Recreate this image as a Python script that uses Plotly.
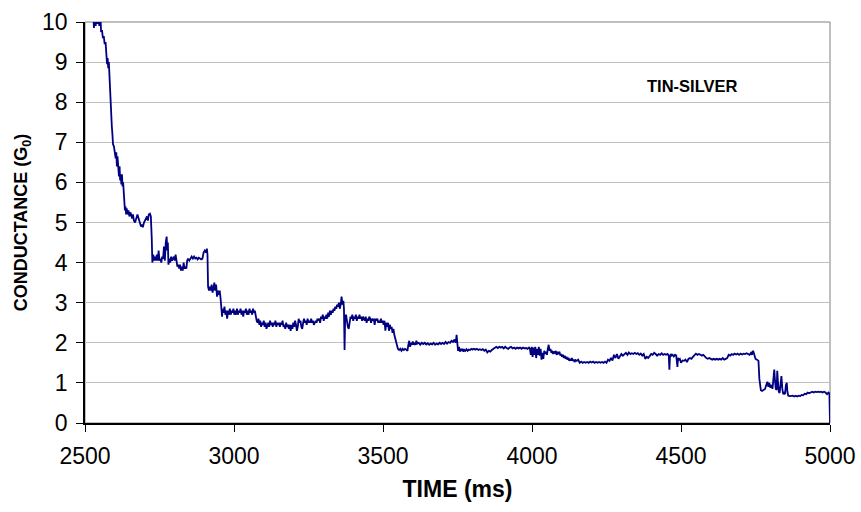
import plotly.graph_objects as go

# Conductance trace of a tin-silver contact while it is pulled apart.
# Each segment is a list of (time in ms, conductance in G0) readings.
seg_decay = [
    (2527, 10.4), (2530, 9.85), (2533, 10.3), (2536, 9.9), (2539, 10.4), (2542, 9.95),
    (2545, 10.2), (2548, 9.9), (2551, 10.3), (2554, 9.75), (2557, 9.8), (2560, 9.6),
    (2563, 9.65), (2566, 9.45), (2569, 9.5), (2572, 9.2), (2574, 8.95), (2576, 9.1),
    (2578, 8.85), (2580, 9.0), (2582, 8.6), (2584, 8.2), (2586, 8.1), (2588, 7.6),
    (2590, 7.4), (2592, 7.2), (2594, 6.95), (2597, 6.9), (2600, 6.7), (2603, 6.6),
    (2605, 6.75), (2607, 6.4), (2609, 6.65), (2611, 6.3), (2614, 6.15), (2616, 6.4),
    (2618, 6.05), (2620, 6.2), (2622, 5.95), (2624, 6.2), (2626, 5.9), (2628, 6.0),
    (2630, 5.6), (2632, 5.45), (2634, 5.3), (2636, 5.4), (2638, 5.2), (2640, 5.35),
    (2643, 5.2), (2646, 5.3), (2649, 5.15), (2652, 5.25), (2655, 5.2), (2658, 5.1),
    (2661, 5.2), (2664, 5.05), (2668, 5.0), (2672, 5.1), (2676, 5.2), (2680, 5.1),
    (2684, 5.0), (2688, 4.9), (2691, 4.95), (2694, 4.88), (2698, 5.0), (2702, 5.05),
    (2705, 5.1), (2708, 5.15), (2711, 5.05), (2714, 5.2), (2718, 5.22), (2721, 5.15),
]

seg_four = [
    (2724, 4.6), (2726, 4.0), (2729, 4.2), (2732, 4.05), (2735, 4.15), (2738, 4.05),
    (2741, 4.2), (2744, 4.05), (2747, 4.3), (2750, 4.05), (2753, 4.1), (2756, 4.0),
    (2759, 4.15), (2762, 4.1), (2765, 4.4), (2768, 4.05), (2771, 4.5), (2774, 4.65),
    (2776, 4.3), (2778, 4.5), (2780, 3.95), (2783, 4.1), (2786, 4.0), (2789, 4.15),
    (2792, 4.05), (2795, 4.1), (2798, 4.15), (2801, 4.05), (2804, 4.2), (2807, 4.05),
    (2810, 3.9), (2813, 3.95), (2816, 3.85), (2819, 3.95), (2822, 3.8), (2825, 3.9),
    (2828, 3.8), (2831, 4.0), (2834, 3.85), (2837, 3.9), (2840, 3.85), (2843, 4.05),
    (2846, 4.1), (2850, 4.05), (2854, 4.1), (2858, 4.15), (2862, 4.1), (2866, 4.15),
    (2870, 4.1), (2874, 4.12), (2878, 4.08), (2882, 4.12), (2886, 4.1), (2890, 4.08),
    (2894, 4.1), (2898, 4.25), (2902, 4.3), (2906, 4.25), (2909, 4.35), (2911, 4.2),
]

seg_three = [
    (2913, 3.4), (2916, 3.3), (2919, 3.4), (2922, 3.3), (2925, 3.45), (2928, 3.25),
    (2931, 3.35), (2934, 3.5), (2937, 3.3), (2940, 3.45), (2943, 3.15), (2946, 3.3),
    (2949, 3.2), (2952, 3.3), (2955, 3.1), (2958, 2.9), (2960, 2.65), (2962, 2.85),
    (2965, 2.75), (2968, 2.9), (2971, 2.7), (2974, 2.8), (2977, 2.6), (2980, 2.8),
    (2983, 2.7), (2986, 2.85), (2989, 2.7), (2992, 2.8), (2995, 2.75), (2998, 2.85),
    (3001, 2.7), (3004, 2.8), (3007, 2.7), (3010, 2.85), (3013, 2.7), (3016, 2.8),
    (3019, 2.75), (3022, 2.85), (3025, 2.7), (3028, 2.8), (3031, 2.65), (3034, 2.8),
    (3037, 2.75), (3040, 2.85), (3043, 2.7), (3046, 2.8), (3049, 2.7), (3052, 2.85),
    (3055, 2.75), (3058, 2.8), (3061, 2.7), (3064, 2.85), (3067, 2.75), (3070, 2.8),
]

seg_two_half = [
    (3073, 2.6), (3076, 2.55), (3079, 2.5), (3082, 2.6), (3085, 2.45), (3088, 2.55),
    (3091, 2.4), (3094, 2.5), (3097, 2.45), (3100, 2.55), (3103, 2.4), (3106, 2.5),
    (3109, 2.35), (3112, 2.45), (3115, 2.5), (3118, 2.4), (3121, 2.55), (3124, 2.45),
    (3127, 2.5), (3130, 2.4), (3133, 2.5), (3136, 2.45), (3139, 2.55), (3142, 2.4),
    (3145, 2.5), (3148, 2.45), (3151, 2.5), (3154, 2.4), (3157, 2.5), (3160, 2.45),
    (3163, 2.55), (3166, 2.4), (3169, 2.45), (3172, 2.35), (3175, 2.5), (3178, 2.4),
    (3181, 2.45), (3184, 2.35), (3187, 2.45), (3190, 2.3), (3193, 2.45), (3196, 2.35),
    (3199, 2.5), (3202, 2.4), (3205, 2.55), (3208, 2.45), (3211, 2.3), (3214, 2.4),
    (3217, 2.6), (3220, 2.5), (3223, 2.55), (3226, 2.4), (3229, 2.35), (3232, 2.5),
    (3235, 2.6), (3238, 2.5), (3241, 2.55), (3244, 2.45), (3247, 2.6), (3250, 2.5),
    (3253, 2.55), (3256, 2.5), (3259, 2.6), (3262, 2.5), (3265, 2.55), (3268, 2.45),
    (3271, 2.5), (3274, 2.55), (3277, 2.5), (3280, 2.6), (3283, 2.55), (3286, 2.6),
    (3289, 2.5), (3292, 2.65), (3295, 2.6), (3298, 2.7), (3301, 2.55), (3304, 2.65),
    (3307, 2.6), (3310, 2.7), (3313, 2.6), (3316, 2.75), (3319, 2.65), (3322, 2.8),
    (3325, 2.7), (3328, 2.8), (3331, 2.75), (3334, 2.85), (3337, 2.8), (3340, 2.9),
    (3343, 2.85), (3346, 2.95), (3349, 2.9), (3352, 3.0), (3355, 2.85), (3358, 2.95),
    (3361, 3.15), (3364, 2.95), (3367, 3.05), (3369, 2.85), (3371, 1.82), (3373, 2.6),
    (3376, 2.7), (3379, 2.45), (3382, 2.4), (3385, 2.35), (3388, 2.5), (3391, 2.65),
    (3394, 2.6), (3397, 2.7), (3400, 2.55), (3403, 2.65), (3406, 2.6), (3409, 2.7),
    (3412, 2.55), (3415, 2.65), (3418, 2.6), (3421, 2.7), (3424, 2.6), (3427, 2.65),
    (3430, 2.55), (3433, 2.65), (3436, 2.6), (3439, 2.55), (3442, 2.65), (3445, 2.5),
    (3448, 2.6), (3451, 2.55), (3454, 2.65), (3457, 2.6), (3460, 2.5), (3463, 2.6),
    (3466, 2.55), (3469, 2.6), (3472, 2.45), (3475, 2.6), (3478, 2.55), (3481, 2.6),
    (3484, 2.5), (3487, 2.55), (3490, 2.5), (3493, 2.6), (3496, 2.5), (3499, 2.55),
    (3502, 2.45), (3505, 2.55), (3508, 2.3), (3511, 2.5), (3514, 2.4), (3517, 2.5),
    (3520, 2.3), (3523, 2.45), (3526, 2.35), (3529, 2.4), (3532, 2.25), (3535, 2.35),
    (3538, 2.2), (3541, 2.1), (3544, 2.0), (3547, 1.95),
]

seg_two = [
    (3550, 1.85), (3554, 1.82), (3558, 1.85), (3562, 1.8), (3566, 1.85), (3570, 1.82),
    (3574, 1.85), (3578, 1.83), (3582, 1.8), (3585, 1.95), (3588, 2.05), (3591, 1.9),
    (3594, 2.0), (3597, 1.95), (3600, 2.03), (3603, 1.95), (3606, 2.0), (3609, 1.95),
    (3612, 2.05), (3615, 1.98), (3620, 2.0), (3625, 1.95), (3630, 2.0), (3635, 1.97),
    (3640, 2.0), (3645, 1.96), (3650, 1.99), (3655, 1.95), (3660, 1.98), (3665, 1.96),
    (3670, 2.0), (3675, 1.95), (3680, 1.98), (3685, 1.96), (3690, 2.0), (3695, 1.97),
    (3700, 2.0), (3705, 1.97), (3710, 2.02), (3715, 1.98), (3720, 2.02), (3725, 2.0),
    (3730, 2.05), (3735, 2.02), (3740, 2.08), (3744, 2.0), (3747, 2.2), (3750, 1.95),
    (3752, 1.8), (3755, 1.9), (3758, 1.78), (3761, 1.85), (3764, 1.8), (3767, 1.85),
    (3770, 1.78), (3773, 1.82), (3776, 1.8), (3780, 1.84), (3784, 1.8), (3788, 1.83),
    (3792, 1.82), (3796, 1.85), (3800, 1.83), (3805, 1.85), (3810, 1.83), (3815, 1.85),
    (3820, 1.82), (3825, 1.84), (3830, 1.82), (3835, 1.84), (3840, 1.8), (3845, 1.83),
    (3850, 1.76), (3855, 1.8), (3860, 1.78), (3865, 1.82), (3870, 1.85), (3875, 1.88),
    (3880, 1.9), (3885, 1.87), (3890, 1.9), (3895, 1.88), (3900, 1.9), (3905, 1.86),
    (3910, 1.9), (3915, 1.87), (3920, 1.85), (3925, 1.88), (3930, 1.9), (3935, 1.86),
    (3940, 1.88), (3945, 1.85), (3950, 1.88), (3955, 1.86), (3960, 1.88), (3965, 1.85),
    (3970, 1.88), (3975, 1.86), (3980, 1.87), (3985, 1.85), (3990, 1.88), (3993, 1.85),
    (3996, 1.7), (3999, 1.9), (4002, 1.65), (4005, 1.88), (4008, 1.7), (4011, 1.9),
    (4014, 1.62), (4017, 1.85), (4020, 1.7), (4023, 1.9), (4026, 1.68), (4029, 1.85),
    (4032, 1.58), (4035, 1.75), (4038, 1.6), (4041, 1.8), (4044, 1.72), (4047, 1.78),
    (4050, 1.7), (4053, 1.85), (4056, 1.95), (4059, 1.8), (4062, 1.85), (4065, 1.75),
    (4068, 1.8), (4071, 1.72), (4074, 1.78), (4077, 1.75), (4080, 1.8), (4083, 1.7),
    (4086, 1.75), (4089, 1.72), (4092, 1.78), (4095, 1.68), (4098, 1.72), (4101, 1.65),
    (4104, 1.7), (4107, 1.62), (4110, 1.68), (4113, 1.6), (4116, 1.65), (4119, 1.58),
    (4122, 1.63), (4125, 1.55), (4128, 1.6), (4131, 1.56), (4134, 1.62), (4137, 1.55),
    (4140, 1.58), (4143, 1.52), (4146, 1.57),
]

seg_one_half = [
    (4150, 1.55), (4155, 1.58), (4160, 1.5), (4165, 1.53), (4170, 1.5), (4175, 1.52),
    (4180, 1.5), (4185, 1.52), (4190, 1.5), (4195, 1.53), (4200, 1.51), (4205, 1.53),
    (4210, 1.5), (4215, 1.52), (4220, 1.5), (4225, 1.52), (4230, 1.5), (4235, 1.52),
    (4240, 1.5), (4245, 1.53), (4250, 1.5), (4255, 1.58), (4260, 1.55), (4265, 1.62),
    (4270, 1.56), (4275, 1.7), (4280, 1.62), (4285, 1.72), (4290, 1.6), (4295, 1.68),
    (4300, 1.72), (4305, 1.68), (4310, 1.72), (4315, 1.75), (4320, 1.7), (4325, 1.76),
    (4330, 1.72), (4335, 1.74), (4340, 1.72), (4345, 1.75), (4350, 1.72), (4355, 1.74),
    (4360, 1.7), (4365, 1.73), (4370, 1.68), (4375, 1.72), (4380, 1.6), (4385, 1.65),
    (4390, 1.62), (4395, 1.68), (4400, 1.72), (4405, 1.7), (4410, 1.75), (4415, 1.72),
    (4420, 1.68), (4425, 1.72), (4430, 1.7), (4435, 1.74), (4440, 1.7), (4445, 1.72),
    (4450, 1.7), (4455, 1.72), (4459, 1.68), (4461, 1.33), (4463, 1.65), (4466, 1.72),
    (4469, 1.68), (4472, 1.7), (4476, 1.66), (4480, 1.7), (4484, 1.68), (4488, 1.4),
    (4490, 1.62), (4493, 1.58), (4496, 1.6), (4500, 1.5), (4505, 1.56), (4510, 1.55),
    (4515, 1.58), (4520, 1.52), (4525, 1.6), (4530, 1.62), (4535, 1.6), (4540, 1.65),
    (4545, 1.7), (4550, 1.73), (4555, 1.7), (4560, 1.72), (4565, 1.7), (4570, 1.68),
    (4575, 1.7), (4580, 1.65), (4585, 1.62), (4590, 1.6), (4595, 1.62), (4600, 1.6),
    (4605, 1.58), (4610, 1.6), (4615, 1.58), (4620, 1.6), (4625, 1.58), (4630, 1.6),
    (4635, 1.58), (4640, 1.62), (4645, 1.58), (4650, 1.6), (4655, 1.62), (4660, 1.7),
    (4665, 1.68), (4670, 1.72), (4675, 1.7), (4680, 1.73), (4685, 1.71), (4690, 1.73),
    (4695, 1.7), (4700, 1.73), (4705, 1.71), (4710, 1.73), (4715, 1.72), (4720, 1.74),
    (4725, 1.72), (4730, 1.7), (4735, 1.75), (4738, 1.7), (4742, 1.8), (4746, 1.68),
    (4750, 1.6), (4755, 1.58), (4760, 1.55),
]

seg_break = [
    (4763, 1.1), (4765, 0.88), (4768, 0.82), (4772, 0.8), (4777, 0.82), (4782, 0.85),
    (4786, 0.95), (4790, 1.03), (4793, 0.9), (4796, 1.0), (4800, 0.88), (4804, 0.95),
    (4807, 0.85), (4810, 1.1), (4813, 1.33), (4815, 1.1), (4818, 0.85), (4821, 0.83),
    (4823, 1.3), (4825, 1.05), (4828, 0.78), (4831, 0.75), (4834, 0.9), (4837, 1.17),
    (4840, 0.85), (4843, 0.72), (4846, 0.75), (4849, 0.72), (4852, 0.95), (4855, 1.0),
    (4857, 0.78), (4860, 0.68), (4866, 0.67), (4870, 0.67), (4875, 0.68), (4880, 0.66),
    (4885, 0.68), (4890, 0.66), (4895, 0.68), (4900, 0.67), (4905, 0.7), (4910, 0.69),
    (4915, 0.73), (4920, 0.72), (4925, 0.76), (4930, 0.74), (4935, 0.77), (4940, 0.78),
    (4945, 0.76), (4950, 0.78), (4955, 0.77), (4960, 0.78), (4965, 0.77), (4970, 0.78),
    (4975, 0.76), (4980, 0.78), (4985, 0.76), (4990, 0.72), (4995, 0.76), (4998, 0.74),
    (5000, 0.0),
]

x_ticks = [2500, 3000, 3500, 4000, 4500, 5000]
y_ticks = list(range(0, 11))

segments = [seg_decay, seg_four, seg_three, seg_two_half, seg_two, seg_one_half, seg_break]
points = [p for seg in segments for p in seg]
time_ms = [p[0] for p in points]
conductance = [p[1] for p in points]

FONT = "Arial, 'Liberation Sans', sans-serif"

fig = go.Figure()
fig.add_trace(go.Scatter(
    x=time_ms, y=conductance, mode="lines",
    line=dict(color="#000080", width=1.8),
    showlegend=False, hoverinfo="skip",
))

# plot-area frame (gray), axes drawn on top in black
fig.add_shape(type="rect", xref="paper", yref="paper", x0=0, y0=0, x1=1, y1=1,
              line=dict(color="#808080", width=1), layer="below")

fig.add_annotation(text="<b>TIN-SILVER</b>", x=0.815, y=0.84, xref="paper", yref="paper",
                   xanchor="center", yanchor="middle", showarrow=False,
                   font=dict(family=FONT, size=16.5, color="#000000"))

fig.update_layout(
    width=861, height=512,
    margin=dict(l=85, r=31, t=22, b=89),
    paper_bgcolor="white", plot_bgcolor="white",
    font=dict(family=FONT, color="#000000"),
    xaxis=dict(
        range=[2500, 5000], tickvals=x_ticks, ticktext=[str(v) for v in x_ticks],
        showgrid=False, zeroline=False, automargin=False,
        showline=True, linecolor="#000000", linewidth=1.5,
        ticks="outside", ticklen=7, tickcolor="#000000", tickwidth=1,
        tickfont=dict(size=23), ticklabelstandoff=5,
        title=dict(text="<b>TIME (ms)</b>", font=dict(size=23), standoff=13),
    ),
    yaxis=dict(
        range=[0, 10], tickvals=y_ticks, ticktext=[str(v) for v in y_ticks],
        showgrid=True, gridcolor="#c0c0c0", gridwidth=1, zeroline=False, automargin=False,
        showline=True, linecolor="#000000", linewidth=1.5,
        ticks="outside", ticklen=7, tickcolor="#000000", tickwidth=1,
        tickfont=dict(size=23), ticklabelstandoff=4,
        title=dict(text="<b>CONDUCTANCE (G<sub>0</sub>)</b>", font=dict(size=18), standoff=10),
    ),
)

fig.write_html("out.html")
